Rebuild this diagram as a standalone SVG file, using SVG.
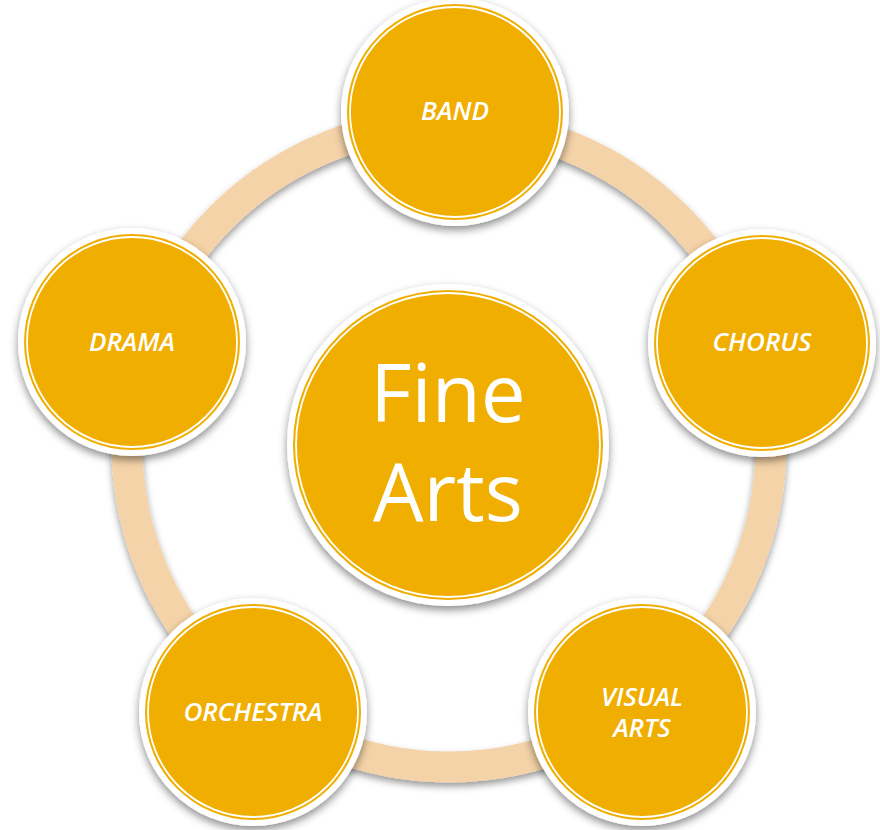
<svg xmlns="http://www.w3.org/2000/svg" width="880" height="830" viewBox="0 0 880 830">
  <defs>
    <filter id="sh" x="-20%" y="-20%" width="140%" height="140%">
      <feDropShadow dx="0" dy="4" stdDeviation="4" flood-color="#000" flood-opacity="0.45"/>
    </filter>
    <filter id="shr" x="-20%" y="-20%" width="140%" height="140%">
      <feDropShadow dx="0" dy="4" stdDeviation="3.5" flood-color="#000" flood-opacity="0.4"/>
    </filter>
  </defs>
  <style>
    .outer { fill: #ffffff; filter: url(#sh); }
    .gold { fill: #F0AE00; }
    .line { fill: none; stroke: #ffffff; stroke-width: 1.8; }
    .lbl { font-family: "Open Sans", "Noto Sans", "DejaVu Sans", sans-serif; font-weight: 600; font-style: italic; font-size: 26px; fill: #ffffff; text-anchor: middle; }
    .big { font-family: "Open Sans", "Noto Sans", "DejaVu Sans", sans-serif; font-size: 80px; fill: #ffffff; text-anchor: middle; }
  </style>
  <rect width="880" height="830" fill="#ffffff"/>
  <g id="connectors">
    <circle cx="449" cy="445" r="322" fill="none" stroke="#F5D3A8" stroke-width="31" filter="url(#shr)"/>
  </g>
  <g id="center">
    <circle class="outer" cx="448" cy="445" r="161"/>
    <circle class="gold" cx="448" cy="445" r="155"/>
    <circle class="line" cx="448" cy="445" r="152"/>
    <text class="big" x="448" y="422">Fine</text>
    <text class="big" x="448" y="521">Arts</text>
  </g>
  <g id="band">
    <circle class="outer" cx="455" cy="112" r="114"/>
    <circle class="gold" cx="455" cy="112" r="108"/>
    <circle class="line" cx="455" cy="112" r="105"/>
    <text class="lbl" x="455" y="120">BAND</text>
  </g>
  <g id="chorus">
    <circle class="outer" cx="762" cy="343" r="114"/>
    <circle class="gold" cx="762" cy="343" r="108"/>
    <circle class="line" cx="762" cy="343" r="105"/>
    <text class="lbl" x="762" y="351">CHORUS</text>
  </g>
  <g id="visual-arts">
    <circle class="outer" cx="642" cy="712" r="114"/>
    <circle class="gold" cx="642" cy="712" r="108"/>
    <circle class="line" cx="642" cy="712" r="105"/>
    <text class="lbl" x="642" y="706">VISUAL</text>
    <text class="lbl" x="642" y="737">ARTS</text>
  </g>
  <g id="orchestra">
    <circle class="outer" cx="253" cy="712" r="114"/>
    <circle class="gold" cx="253" cy="712" r="108"/>
    <circle class="line" cx="253" cy="712" r="105"/>
    <text class="lbl" x="253" y="721">ORCHESTRA</text>
  </g>
  <g id="drama">
    <circle class="outer" cx="132" cy="342" r="114"/>
    <circle class="gold" cx="132" cy="342" r="108"/>
    <circle class="line" cx="132" cy="342" r="105"/>
    <text class="lbl" x="132" y="351">DRAMA</text>
  </g>
</svg>
